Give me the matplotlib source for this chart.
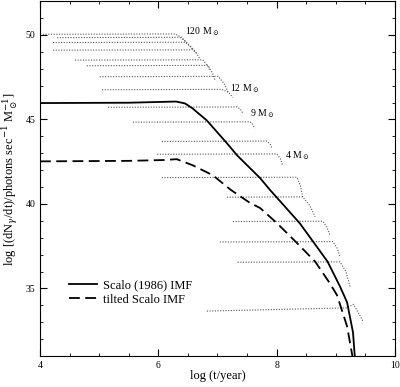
import numpy as np
import matplotlib
matplotlib.use('Agg')
import matplotlib.pyplot as plt
from matplotlib.ticker import MultipleLocator

plt.rcParams['font.family'] = ['Liberation Serif', 'DejaVu Serif']
plt.rcParams['mathtext.fontset'] = 'dejavuserif'

# total ionizing photon rate per unit mass (solid: Scalo 1986, dashed: tilted)
scalo_t = [4.0, 5.5, 6.3, 6.45, 6.58, 6.82, 7.16, 7.33, 7.72, 7.89, 8.39, 8.86, 9.07, 9.19, 9.29, 9.32]
scalo_q = [45.97, 45.99, 46.06, 45.95, 45.65, 44.94, 43.59, 42.88, 41.53, 40.82, 38.86, 36.59, 35.12, 34.18, 32.4, 31.0]
tilt_t = [4.0, 5.5, 6.1, 6.31, 6.58, 6.92, 7.23, 7.55, 7.72, 8.0, 8.34, 8.65, 8.9, 9.02, 9.19, 9.28]
tilt_q = [42.52, 42.55, 42.6, 42.65, 42.29, 41.7, 40.82, 40.06, 39.76, 38.88, 37.7, 36.59, 35.3, 34.6, 32.76, 31.0]

# individual stellar tracks (dotted): start, flat end, knee, end
track_t = [
    [4.05, 6.28, 6.40, 6.48],
    [4.29, 6.36, 6.49, 6.57],
    [4.22, 6.45, 6.57, 6.65],
    [4.22, 6.58, 6.65, 6.70],
    [4.59, 6.75, 6.83, 6.87],
    [4.79, 6.84, 6.92, 6.96],
    [5.01, 7.01, 7.12, 7.18],
    [5.05, 7.07, 7.19, 7.26],
    [5.15, 7.33, 7.39, 7.43],
    [5.57, 7.55, 7.60, 7.63],
    [6.06, 7.83, 7.89, 7.92],
    [5.98, 8.00, 8.06, 8.10],
    [6.06, 8.34, 8.40, 8.44],
    [7.16, 8.44, 8.56, 8.65],
    [7.26, 8.78, 8.85, 8.90],
    [7.04, 8.95, 9.02, 9.07],
    [7.34, 9.07, 9.17, 9.24],
    [6.82, 9.18, 9.30, 9.46],
]
track_q = [
    [50.04, 50.06, 49.85, 49.53],
    [49.84, 49.86, 49.55, 49.18],
    [49.55, 49.57, 49.25, 48.90],
    [49.10, 49.12, 48.90, 48.60],
    [48.51, 48.53, 48.20, 47.90],
    [48.18, 48.20, 47.70, 47.30],
    [47.53, 47.55, 47.10, 46.60],
    [46.76, 46.78, 46.60, 46.30],
    [45.72, 45.74, 45.60, 45.35],
    [44.84, 44.86, 44.70, 44.47],
    [43.70, 43.72, 43.55, 43.30],
    [42.94, 42.96, 42.70, 42.30],
    [41.56, 41.58, 41.10, 40.40],
    [40.40, 40.42, 39.90, 39.24],
    [38.96, 38.98, 38.60, 38.18],
    [37.75, 37.77, 37.40, 36.88],
    [36.55, 36.57, 36.00, 35.12],
    [33.66, 33.85, 34.06, 33.06],
]

mass_labels = ['120 M$_\\odot$', '12 M$_\\odot$', '9 M$_\\odot$', '4 M$_\\odot$']
label_t = [6.45, 7.21, 7.55, 8.14]
label_q = [50.18, 46.8, 45.35, 42.88]

fig = plt.figure(figsize=(4.0, 3.87), dpi=100)
ax = fig.add_axes([0.1, 0.08, 0.8875, 0.917])

for xs, ys in zip(track_t, track_q):
    ax.plot(xs, ys, color='#555555', lw=0.8, ls=(0, (1, 1.4)))

ax.plot(scalo_t, scalo_q, 'k-', lw=1.3, label='Scalo (1986) IMF')
ax.plot(tilt_t, tilt_q, 'k', lw=1.3, ls=(0, (6, 3)), label='tilted Scalo IMF')

for s, x, y in zip(mass_labels, label_t, label_q):
    ax.text(x, y, s, fontsize=7, va='center', ha='left')

ax.set_xlim(4, 10)
ax.set_ylim(31, 52)
ax.set_xticks([4, 6, 8, 10])
ax.set_yticks([35, 40, 45, 50])
ax.xaxis.set_minor_locator(MultipleLocator(0.5))
ax.yaxis.set_minor_locator(MultipleLocator(1))
ax.tick_params(which='both', direction='in', top=True, right=True, labelsize=7)
ax.tick_params(which='major', length=5)
ax.tick_params(which='minor', length=2.5)
ax.set_xlabel('log (t/year)', fontsize=9, labelpad=0)
ax.set_ylabel('log [(dN$_\\gamma$/dt)/photons sec$^{-1}$ M$_\\odot^{-1}$]', fontsize=9, labelpad=4)

ax.legend(loc='lower left', bbox_to_anchor=(0.05, 0.11), frameon=False,
          fontsize=9, handlelength=2.2, handletextpad=0.5, labelspacing=0.2)

plt.savefig('out.png', dpi=100)
